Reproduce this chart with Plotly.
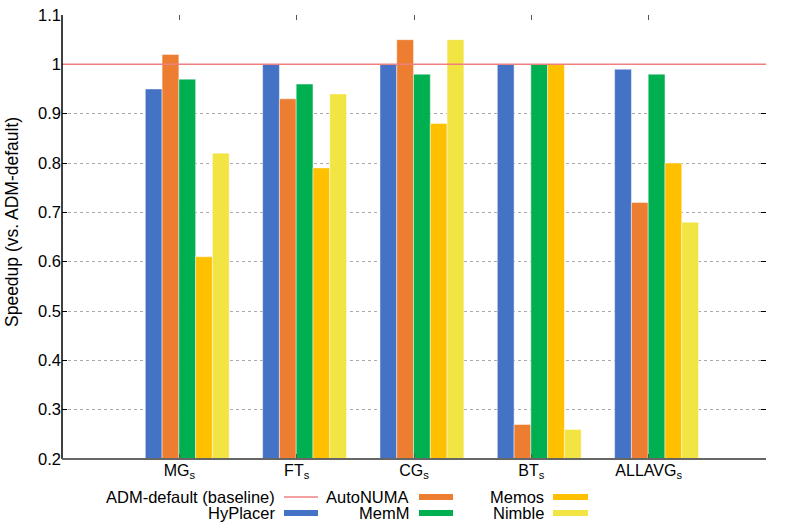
import plotly.graph_objects as go

# benchmark speedups relative to ADM-default
categories = ["MG<sub>s</sub>", "FT<sub>s</sub>", "CG<sub>s</sub>", "BT<sub>s</sub>", "ALLAVG<sub>s</sub>"]
hyplacer = [0.95, 1.00, 1.00, 1.00, 0.99]
autonuma = [1.02, 0.93, 1.05, 0.27, 0.72]
memm = [0.97, 0.96, 0.98, 1.00, 0.98]
memos = [0.61, 0.79, 0.88, 1.00, 0.80]
nimble = [0.82, 0.94, 1.05, 0.26, 0.68]
baseline = 1.0

series = [
    ("HyPlacer", hyplacer, "#4472C4"),
    ("AutoNUMA", autonuma, "#ED7D31"),
    ("MemM", memm, "#00B050"),
    ("Memos", memos, "#FFC000"),
    ("Nimble", nimble, "#F1E443"),
]

FONT = "Liberation Sans, Arial, sans-serif"
BAR_W = 0.143
GROUP_START = -0.29  # gnuplot puts the group slightly right of the tick

fig = go.Figure()
for i, (name, vals, col) in enumerate(series):
    fig.add_trace(go.Bar(x=categories, y=vals, name=name, width=BAR_W,
                         offset=GROUP_START + i * BAR_W,
                         marker=dict(color=col, line=dict(color="rgba(255,255,255,0.45)", width=1)),
                         showlegend=False))

# baseline
fig.add_shape(type="line", xref="paper", x0=0, x1=1, yref="y", y0=baseline, y1=baseline,
              line=dict(color="#F08080", width=1.5), layer="above")
# axis lines (left black, bottom grey)
fig.add_shape(type="line", xref="paper", x0=0, x1=0, yref="paper", y0=0, y1=1,
              line=dict(color="black", width=1.5))
fig.add_shape(type="line", xref="paper", x0=0, x1=1, yref="paper", y0=0, y1=0,
              line=dict(color="#666666", width=2), layer="above")

W, H = 789, 526
L, R, T, B = 62, 23, 15, 67
pw, ph = W - L - R, H - T - B

def px_to_paper(x, y):
    return (x - L) / pw, (H - B - y) / ph

# y-axis title
ax, ay = px_to_paper(12, 222)
fig.add_annotation(x=ax, y=ay, xref="paper", yref="paper", text="Speedup (vs. ADM-default)",
                   textangle=-90, showarrow=False, xanchor="center", yanchor="middle",
                   font=dict(family=FONT, size=17.5, color="black"))

# hand-made legend, gnuplot style (text then sample)
legend_rows = [
    [("ADM-default (baseline)", "line", "#F08080"), ("AutoNUMA", "bar", "#ED7D31"), ("Memos", "bar", "#FFC000")],
    [("HyPlacer", "bar", "#4472C4"), ("MemM", "bar", "#00B050"), ("Nimble", "bar", "#F1E443")],
]
col_text_right = [277, 411, 546]
col_sample = [(284, 318), (419, 453), (553, 588)]
row_y = [497, 513]

for r, row in enumerate(legend_rows):
    for c, (label, kind, col) in enumerate(row):
        tx, ty = px_to_paper(col_text_right[c], row_y[r])
        fig.add_annotation(x=tx, y=ty, xref="paper", yref="paper", text=label, showarrow=False,
                           xanchor="right", yanchor="middle", font=dict(family=FONT, size=16.5, color="black"))
        x0, _ = px_to_paper(col_sample[c][0], 0)
        x1, _ = px_to_paper(col_sample[c][1], 0)
        fig.add_shape(type="line", xref="paper", yref="paper", x0=x0, x1=x1, y0=ty, y1=ty,
                      line=dict(color=col, width=1.5 if kind == "line" else 6))

fig.update_layout(
    width=W, height=H,
    margin=dict(l=L, r=R, t=T, b=B, autoexpand=False),
    paper_bgcolor="white", plot_bgcolor="white",
    barmode="overlay",
    font=dict(family=FONT, size=15, color="black"),
    xaxis=dict(range=[-1, 5], showline=False, mirror="ticks", ticks="inside", ticklen=5,
               tickcolor="#555", showgrid=False, tickfont=dict(size=16), automargin=False),
    yaxis=dict(range=[0.2, 1.1], dtick=0.1, showline=False, mirror="ticks", ticks="inside",
               ticklen=5, tickcolor="black", showgrid=True, gridcolor="#aaaaaa", griddash="dot",
               gridwidth=1, zeroline=False, tickfont=dict(size=16.5), tickformat="~g", automargin=False),
)

fig.write_html("out.html", config={"displayModeBar": False},
               post_script="document.body.style.margin='0';")
